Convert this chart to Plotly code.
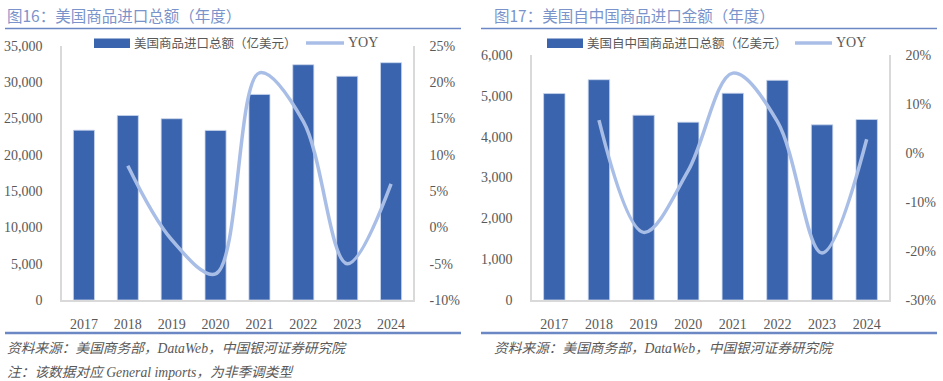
import plotly.graph_objects as go

# ---------------- data ----------------
years = ["2017", "2018", "2019", "2020", "2021", "2022", "2023", "2024"]
us_imports = [23400, 25420, 24980, 23370, 28330, 32420, 30830, 32700]   # 亿美元
us_imports_yoy = [8.5, -1.7, -6.4, 21.3, 14.6, -5.0, 6.0]              # %, 2018-2024
cn_imports = [5056, 5395, 4525, 4355, 5064, 5380, 4290, 4420]          # 亿美元
cn_imports_yoy = [6.7, -16.2, -3.6, 16.3, 6.4, -20.4, 2.8]             # %, 2018-2024

left_y_ticks = [0, 5000, 10000, 15000, 20000, 25000, 30000, 35000]
left_y_labels = ["0", "5,000", "10,000", "15,000", "20,000", "25,000", "30,000", "35,000"]
left_y2_ticks = [-0.10, -0.05, 0.0, 0.05, 0.10, 0.15, 0.20, 0.25]
left_y2_labels = ["-10%", "-5%", "0%", "5%", "10%", "15%", "20%", "25%"]
right_y_ticks = [0, 1000, 2000, 3000, 4000, 5000, 6000]
right_y_labels = ["0", "1,000", "2,000", "3,000", "4,000", "5,000", "6,000"]
right_y2_ticks = [-0.30, -0.20, -0.10, 0.0, 0.10, 0.20]
right_y2_labels = ["-30%", "-20%", "-10%", "0%", "10%", "20%"]

left_title = "图16：美国商品进口总额（年度）"
right_title = "图17：美国自中国商品进口金额（年度）"
left_bar_name = "美国商品进口总额（亿美元）"
right_bar_name = "美国自中国商品进口总额（亿美元）"
yoy_name = "YOY"
source_text = "资料来源：美国商务部，DataWeb，中国银河证券研究院"
note_text = "注：该数据对应 General imports，为非季调类型"

# ---------------- style ----------------
W, H = 943, 381
BAR = "#3A64AD"
LINE = "#A9BEE6"
TXT = "#595959"
TITLE = "#7A93CA"
RULE = "#6C88C4"
AX = "#D9D9D9"
FONT = "Liberation Serif, Noto Sans CJK SC, serif"
CJK = "Noto Sans CJK SC, Liberation Serif, sans-serif"


def px(x):
    return x / W


def py(y):
    return 1 - y / H


fig = go.Figure()

fig.add_trace(go.Bar(x=years, y=us_imports, name=left_bar_name, marker_color=BAR,
                     marker_line=dict(color="#C9D5EC", width=0.8),
                     xaxis="x", yaxis="y", showlegend=False))
fig.add_trace(go.Scatter(x=years[1:], y=[v / 100 for v in us_imports_yoy], name=yoy_name,
                         mode="lines", line=dict(color=LINE, width=3.5, shape="spline", smoothing=1.0),
                         xaxis="x", yaxis="y2", showlegend=False))
fig.add_trace(go.Bar(x=years, y=cn_imports, name=right_bar_name, marker_color=BAR,
                     marker_line=dict(color="#C9D5EC", width=0.8),
                     xaxis="x2", yaxis="y3", showlegend=False))
fig.add_trace(go.Scatter(x=years[1:], y=[v / 100 for v in cn_imports_yoy], name=yoy_name,
                         mode="lines", line=dict(color=LINE, width=3.5, shape="spline", smoothing=1.0),
                         xaxis="x2", yaxis="y4", showlegend=False))

tickfont = dict(family=FONT, size=14, color=TXT)
common = dict(showline=True, linecolor=AX, linewidth=1.5, ticks="", tickfont=tickfont,
              showgrid=False, automargin=False)

fig.update_layout(
    width=W, height=H, autosize=False,
    margin=dict(l=0, r=0, t=0, b=0),
    paper_bgcolor="white", plot_bgcolor="white",
    bargap=0.52,
    showlegend=False,
    xaxis=dict(domain=[px(62), px(413)], anchor="y", type="category",
               ticklabelstandoff=10, **common),
    yaxis=dict(domain=[py(300), py(46)], anchor="x", range=[0, 35000],
               tickvals=left_y_ticks, ticktext=left_y_labels,
               ticklabelstandoff=15, zeroline=False, **common),
    yaxis2=dict(overlaying="y", side="right", anchor="x", range=[-0.10, 0.25],
                tickvals=left_y2_ticks, ticktext=left_y2_labels,
                ticklabelstandoff=12, zeroline=False, **common),
    xaxis2=dict(domain=[px(532), px(889)], anchor="y3", type="category",
                ticklabelstandoff=10, **common),
    yaxis3=dict(domain=[py(300), py(55)], anchor="x2", range=[0, 6000],
                tickvals=right_y_ticks, ticktext=right_y_labels,
                ticklabelstandoff=15, zeroline=False, **common),
    yaxis4=dict(overlaying="y3", side="right", anchor="x2", range=[-0.30, 0.20],
                tickvals=right_y2_ticks, ticktext=right_y2_labels,
                ticklabelstandoff=12, zeroline=False, **common),
)

shapes = []
annotations = []

for x0, x1 in [(5, 461), (481, 937)]:
    shapes.append(dict(type="line", xref="paper", yref="paper", x0=px(x0), x1=px(x1),
                       y0=py(28.5), y1=py(28.5), line=dict(color=RULE, width=1.5)))
    shapes.append(dict(type="line", xref="paper", yref="paper", x0=px(x0), x1=px(x1),
                       y0=py(333), y1=py(333), line=dict(color=RULE, width=2.5)))

for x, text in [(5, left_title), (492, right_title)]:
    annotations.append(dict(xref="paper", yref="paper", x=px(x), y=py(15), text=text,
                            showarrow=False, xanchor="left", yanchor="middle",
                            font=dict(family=CJK, size=15.5, color=TITLE)))

for (rx0, rx1, tx, lx0, lx1, yx, name) in [
        (94, 130, 132, 306, 344, 346, left_bar_name),
        (547, 583, 585, 795, 832, 834, right_bar_name)]:
    shapes.append(dict(type="rect", xref="paper", yref="paper", x0=px(rx0), x1=px(rx1),
                       y0=py(48), y1=py(38.5), fillcolor=BAR, line=dict(color=BAR, width=0)))
    shapes.append(dict(type="line", xref="paper", yref="paper", x0=px(lx0), x1=px(lx1),
                       y0=py(43), y1=py(43), line=dict(color=LINE, width=3.5)))
    annotations.append(dict(xref="paper", yref="paper", x=px(tx), y=py(43), text=name,
                            showarrow=False, xanchor="left", yanchor="middle",
                            font=dict(family=CJK, size=12.5, color=TXT)))
    annotations.append(dict(xref="paper", yref="paper", x=px(yx), y=py(43), text=yoy_name,
                            showarrow=False, xanchor="left", yanchor="middle",
                            font=dict(family=FONT, size=14, color=TXT)))

for x, y, text in [(5, 348, source_text), (5, 372, note_text), (492, 348, source_text)]:
    annotations.append(dict(xref="paper", yref="paper", x=px(x), y=py(y), text="<i>" + text + "</i>",
                            showarrow=False, xanchor="left", yanchor="middle",
                            font=dict(family=FONT, size=13.7, color=TXT)))

fig.update_layout(shapes=shapes, annotations=annotations)

fig.write_html("out.html", config={"displayModeBar": False},
               post_script="document.body.style.margin='0';document.body.style.overflow='hidden';")
